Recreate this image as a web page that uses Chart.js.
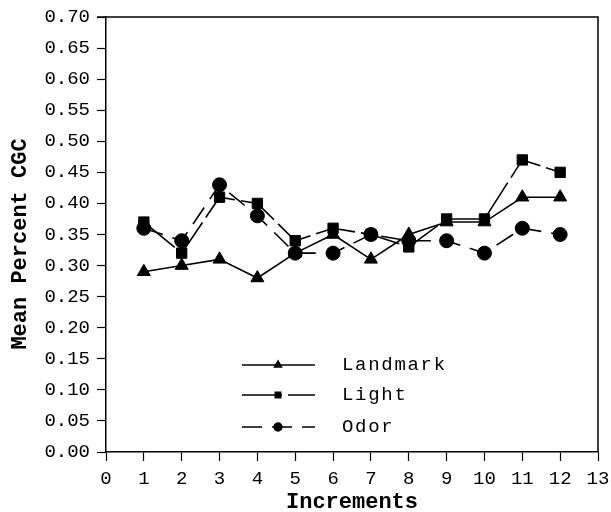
<!DOCTYPE html>
<html><head><meta charset="utf-8">
<script src="https://cdn.jsdelivr.net/npm/chart.js@4"></script>
<style>html,body{margin:0;padding:0;background:#fff}#wrap{position:relative;width:611px;height:512px}</style>
</head><body><div id="wrap"><canvas id="c" width="611" height="512"></canvas></div>
<script>
const increments = [1,2,3,4,5,6,7,8,9,10,11,12];
const landmark = [0.29,0.30,0.31,0.28,0.32,0.35,0.31,0.35,0.37,0.37,0.41,0.41];
const light    = [0.37,0.32,0.41,0.40,0.34,0.36,0.35,0.33,0.375,0.375,0.47,0.45];
const odor     = [0.36,0.34,0.43,0.38,0.32,0.32,0.35,0.34,0.34,0.32,0.36,0.35];
const seriesNames = ['Landmark','Light','Odor'];
const xTitle = 'Increments';
const yTitle = 'Mean Percent CGC';

const FONT = "'Liberation Mono', 'Courier New', monospace";
const styles = [
  {pointStyle:'triangle', radius:7.5, dash:[], legendRadius:4.2},
  {pointStyle:'rect', radius:7.3, dash:[40,6], legendRadius:4},
  {pointStyle:'circle', radius:7, dash:[20,10], legendRadius:4}
];
const seriesValues = [landmark, light, odor];

const datasets = seriesValues.map((vals,i)=>({
  label: seriesNames[i],
  data: increments.map((x,j)=>({x:x,y:vals[j]})),
  borderColor:'#000', backgroundColor:'#000', borderWidth:1.6,
  borderDash: styles[i].dash,
  pointStyle: styles[i].pointStyle, pointRadius: styles[i].radius,
  pointBackgroundColor:'#000', pointBorderColor:'#000', pointBorderWidth:1,
  showLine:true, tension:0, fill:false
}));

const framePlugin = {
  id:'frame',
  afterDraw(chart){
    const {ctx, chartArea:a} = chart;
    ctx.save();
    ctx.strokeStyle='#000'; ctx.lineWidth=1.5;
    ctx.beginPath();
    ctx.moveTo(a.left-9, a.top); ctx.lineTo(a.right, a.top); ctx.lineTo(a.right, a.bottom);
    ctx.stroke();
    ctx.fillStyle='#000';
    ctx.font = "bold 22px " + FONT;
    ctx.textAlign='center'; ctx.textBaseline='middle';
    ctx.fillText(xTitle, (a.left+a.right)/2, 502);
    ctx.translate(20, 244);
    ctx.rotate(-Math.PI/2);
    ctx.fillText(yTitle, 0, 0);
    ctx.restore();
  }
};

const legendPlugin = {
  id:'customLegend',
  afterDraw(chart){
    const ctx = chart.ctx;
    const rows = [365, 395, 427];
    const x0 = 242, x1 = 315, xm = 278, xt = 342;
    ctx.save();
    seriesNames.forEach((name,i)=>{
      const y = rows[i];
      ctx.strokeStyle='#000'; ctx.lineWidth=1.3;
      ctx.setLineDash(styles[i].dash);
      ctx.beginPath(); ctx.moveTo(x0,y); ctx.lineTo(x1,y); ctx.stroke();
      ctx.setLineDash([]);
      ctx.fillStyle='#000';
      Chart.helpers.drawPoint(ctx, {pointStyle:styles[i].pointStyle, radius:styles[i].legendRadius, rotation:0, borderWidth:1}, xm, y);
      ctx.fillStyle='#000';
      ctx.font = "19px " + FONT;
      if ('letterSpacing' in ctx) ctx.letterSpacing = '1.7px';
      ctx.textBaseline='middle'; ctx.textAlign='left';
      ctx.fillText(name, xt, y);
    });
    ctx.restore();
  }
};

new Chart(document.getElementById('c'), {
  type:'scatter',
  data:{datasets},
  plugins:[framePlugin, legendPlugin],
  options:{
    responsive:false, animation:false,
    layout:{padding:{top:17,right:13,left:0,bottom:0}},
    plugins:{legend:{display:false}, tooltip:{enabled:false}},
    scales:{
      x:{type:'linear', min:0, max:13,
        ticks:{stepSize:1, color:'#000', font:{family:FONT,size:19}, padding:7, maxRotation:0, autoSkip:false},
        grid:{drawOnChartArea:false, color:'#000', tickLength:9, tickWidth:1.2},
        border:{color:'#000', width:1.5},
        title:{display:false},
        afterFit(s){ s.height = 60; s.paddingLeft = 0; s.paddingRight = 0; }
      },
      y:{min:0, max:0.7,
        ticks:{stepSize:0.05, color:'#000', font:{family:FONT,size:19}, padding:7, callback:v=>Number(v).toFixed(2)},
        grid:{drawOnChartArea:false, color:'#000', tickLength:9, tickWidth:1.2},
        border:{color:'#000', width:1.5},
        title:{display:false},
        afterFit(s){ s.width = 106; s.paddingTop = 0; s.paddingBottom = 0; }
      }
    }
  }
});
</script></body></html>
